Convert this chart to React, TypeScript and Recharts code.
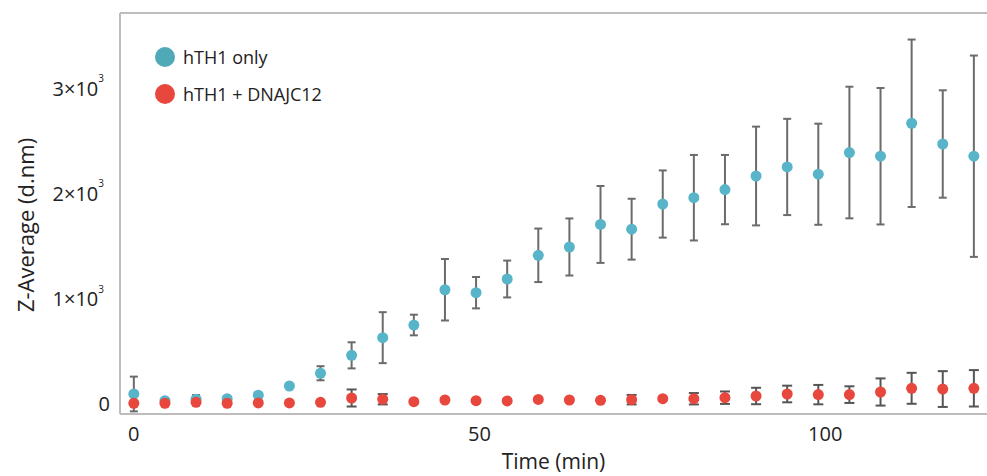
import {
  ScatterChart, Scatter, XAxis, YAxis, ErrorBar, ReferenceLine, Legend,
} from 'recharts';

// sampling times (min)
const times = [
  0, 4.5, 9, 13.5, 18, 22.5, 27, 31.5, 36, 40.5, 45, 49.5, 54, 58.5,
  63, 67.5, 72, 76.5, 81, 85.5, 90, 94.5, 99, 103.5, 108, 112.5, 117, 121.5,
];

// hTH1 only: Z-average and its error
const hth1Mean = [
  95, 31, 45, 50, 83, 171, 292, 462, 630, 750, 1085, 1057, 1187, 1412,
  1491, 1705, 1660, 1899, 1959, 2036, 2165, 2251, 2182, 2388, 2353, 2666, 2469, 2353,
];
const hth1Err = [
  165, 10, 40, 15, 15, 10, 67, 124, 242, 98, 292, 149, 175, 254,
  271, 365, 289, 319, 406, 329, 469, 457, 480, 625, 648, 795, 510, 956,
];

// hTH1 + DNAJC12
const dnajMean = [
  7, 7, 16, 7, 10, 10, 16, 57, 45, 22, 38, 31, 29, 43,
  38, 35, 41, 50, 50, 60, 76, 95, 89, 89, 114, 149, 142, 149,
];
const dnajErr = [
  0, 0, 0, 0, 0, 0, 0, 81, 49, 0, 0, 0, 0, 0,
  0, 0, 45, 0, 54, 59, 78, 79, 92, 79, 129, 147, 170, 173,
];

const xTicks = [0, 50, 100];
const yTicks = [0, 1000, 2000, 3000];

const BLUE = '#58b4c8';
const RED = '#e8473e';
const FONT = '"Open Sans", sans-serif';

const hth1Data = times.map((t, i) => ({ t, v: hth1Mean[i], err: hth1Err[i] }));
const dnajData = times.map((t, i) => ({ t, v: dnajMean[i], err: dnajErr[i] }));

const dot = (color: string) => (props: any) => (
  <circle cx={props.cx} cy={props.cy} r={5.5} fill={color} />
);

const XTick = ({ x, y, payload }: any) => (
  <text x={x} y={y + 17} textAnchor="middle" dominantBaseline="central"
    fontSize={20} fill="#222" fontFamily={FONT}>
    {payload.value}
  </text>
);

const YTick = ({ x, y, payload }: any) => {
  const v = payload.value;
  if (v === 0) {
    return (
      <text x={x - 8} y={y} textAnchor="end" dominantBaseline="central"
        fontSize={20} fill="#222" fontFamily={FONT}>0</text>
    );
  }
  return (
    <text x={x - 14} y={y} textAnchor="end" dominantBaseline="central"
      fontSize={20} fill="#222" fontFamily={FONT}>
      {`${v / 1000}×10`}
      <tspan dy={-10} fontSize={10}>3</tspan>
    </text>
  );
};

const legendItems = [
  { name: 'hTH1 only', color: '#50a9b7' },
  { name: 'hTH1 + DNAJC12', color: RED },
];

const renderLegend = () => (
  <div style={{ fontFamily: FONT, fontSize: 18, color: '#222' }}>
    {legendItems.map((it) => (
      <div key={it.name} style={{ display: 'flex', alignItems: 'center', height: 37 }}>
        <span style={{
          display: 'inline-block', width: 20, height: 20, borderRadius: '50%',
          background: it.color, marginRight: 8,
        }} />
        {it.name}
      </div>
    ))}
  </div>
);

export default function App() {
  return (
    <div style={{ position: 'fixed', left: 0, top: 0, width: 987, height: 476, background: '#fff' }}>
      <ScatterChart width={987} height={476} margin={{ top: 13, right: 0, bottom: 0, left: 0 }}>
        <XAxis
          type="number" dataKey="t" domain={[-2, 123.4]} ticks={xTicks}
          allowDataOverflow height={62} tickSize={0} tickLine={false}
          axisLine={{ stroke: '#bdbdbd', strokeWidth: 2 }} tick={<XTick />}
          label={{
            content: ({ viewBox }: any) => (
              <text x={viewBox.x + viewBox.width / 2} y={461} textAnchor="middle"
                dominantBaseline="central" fontSize={21} fill="#222" fontFamily={FONT}>
                Time (min)
              </text>
            ),
          }}
        />
        <YAxis
          type="number" dataKey="v" domain={[-95, 3713]} ticks={yTicks}
          allowDataOverflow width={120} tickSize={0} tickLine={false}
          axisLine={{ stroke: '#bdbdbd', strokeWidth: 2 }} tick={<YTick />}
          label={{
            content: () => (
              <text x={25} y={225} transform="rotate(-90 25 225)" textAnchor="middle"
                dominantBaseline="central" fontSize={22} fill="#222" fontFamily={FONT}>
                Z-Average (d.nm)
              </text>
            ),
          }}
        />
        <ReferenceLine y={3713} stroke="#bdbdbd" strokeWidth={2} ifOverflow="visible" />
        <Legend
          content={renderLegend} layout="horizontal" verticalAlign="middle" align="center"
          wrapperStyle={{ top: 38, left: 155, width: 'auto' }}
        />
        <Scatter name="hTH1 only" data={hth1Data} shape={dot(BLUE)} isAnimationActive={false}>
          <ErrorBar dataKey="err" direction="y" width={4} stroke="#6b6b6b" strokeWidth={2} />
        </Scatter>
        <Scatter name="hTH1 + DNAJC12" data={dnajData} shape={dot(RED)} isAnimationActive={false}>
          <ErrorBar dataKey="err" direction="y" width={5} stroke="#555" strokeWidth={2} />
        </Scatter>
      </ScatterChart>
    </div>
  );
}
